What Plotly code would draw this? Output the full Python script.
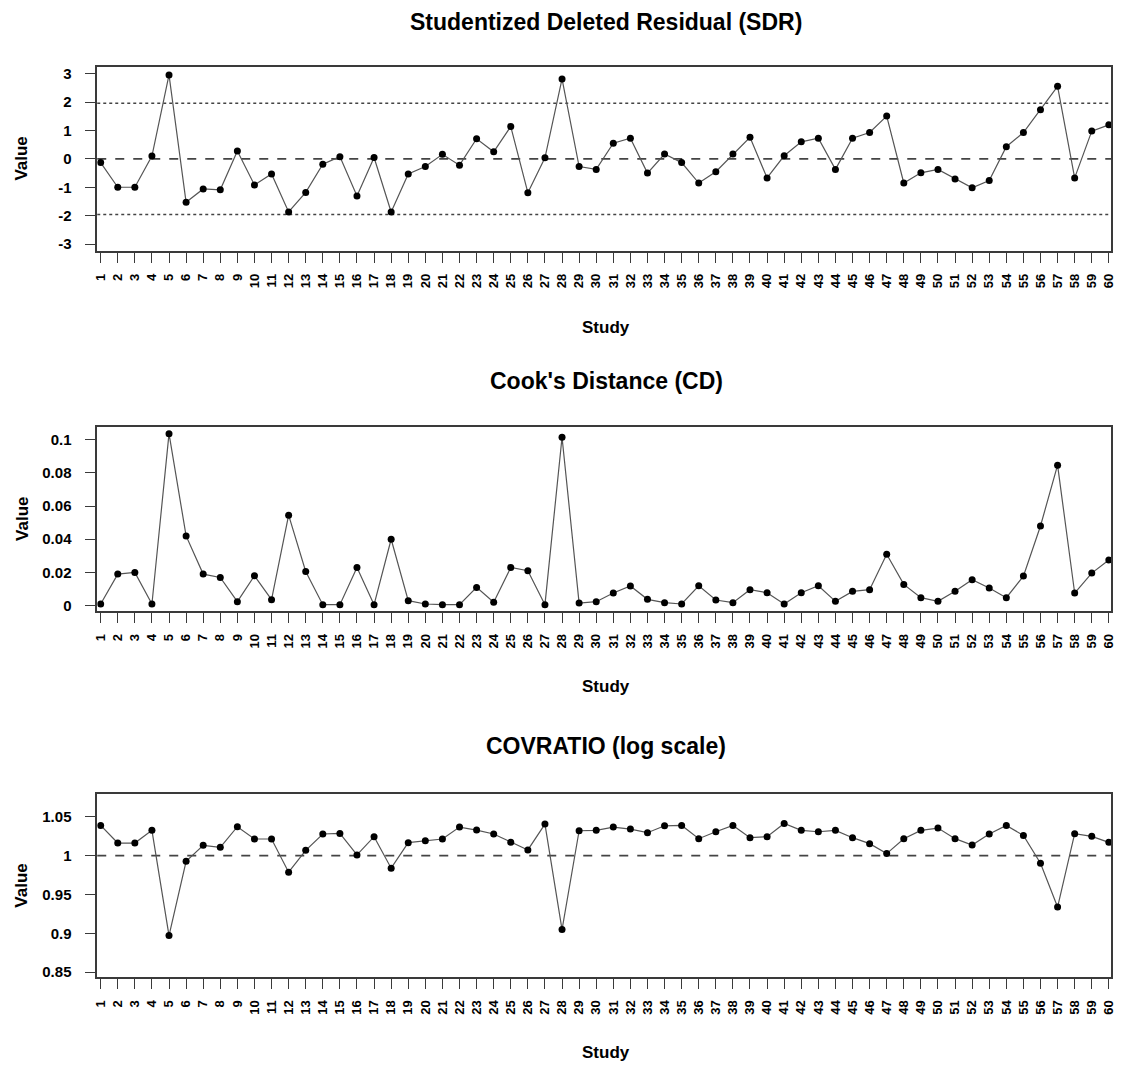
import plotly.graph_objects as go

studies = list(range(1, 61))
study_labels = [str(s) for s in studies]

sdr = [-0.13, -1.00, -1.00, 0.10, 2.96, -1.53, -1.06, -1.09, 0.28, -0.92,
       -0.53, -1.87, -1.18, -0.19, 0.08, -1.31, 0.05, -1.87, -0.53, -0.27,
       0.16, -0.22, 0.71, 0.25, 1.14, -1.19, 0.04, 2.82, -0.27, -0.37,
       0.55, 0.73, -0.50, 0.17, -0.13, -0.85, -0.45, 0.17, 0.76, -0.67,
       0.11, 0.60, 0.73, -0.37, 0.73, 0.93, 1.51, -0.85, -0.49, -0.37,
       -0.71, -1.02, -0.76, 0.43, 0.93, 1.73, 2.56, -0.67, 0.98, 1.20]

cd = [0.0010, 0.0190, 0.0200, 0.0010, 0.1036, 0.0420, 0.0190, 0.0170, 0.0024, 0.0180,
      0.0036, 0.0545, 0.0206, 0.0006, 0.0006, 0.0230, 0.0006, 0.0400, 0.0030, 0.0010,
      0.0006, 0.0006, 0.0110, 0.0020, 0.0230, 0.0210, 0.0006, 0.1014, 0.0016, 0.0024,
      0.0076, 0.0118, 0.0038, 0.0018, 0.0010, 0.0120, 0.0034, 0.0018, 0.0096, 0.0078,
      0.0010, 0.0078, 0.0120, 0.0026, 0.0086, 0.0096, 0.0310, 0.0128, 0.0048, 0.0026,
      0.0086, 0.0156, 0.0106, 0.0048, 0.0178, 0.0480, 0.0846, 0.0076, 0.0196, 0.0275]

covratio = [1.0389, 1.0162, 1.0162, 1.0325, 0.8970, 0.9927, 1.0132, 1.0107, 1.0372, 1.0214,
            1.0214, 0.9786, 1.0068, 1.0278, 1.0286, 1.0009, 1.0244, 0.9838, 1.0167, 1.0192,
            1.0214, 1.0367, 1.0329, 1.0278, 1.0171, 1.0073, 1.0406, 0.9048, 1.0320, 1.0325,
            1.0367, 1.0342, 1.0295, 1.0384, 1.0389, 1.0218, 1.0307, 1.0389, 1.0231, 1.0244,
            1.0414, 1.0325, 1.0307, 1.0325, 1.0231, 1.0154, 1.0026, 1.0218, 1.0325, 1.0355,
            1.0218, 1.0137, 1.0278, 1.0389, 1.0260, 0.9902, 0.9338, 1.0282, 1.0248, 1.0171]

titles = ["Studentized Deleted Residual (SDR)", "Cook's Distance (CD)", "COVRATIO (log scale)"]
x_title = "Study"
y_title = "Value"

sdr_ticks = [3, 2, 1, 0, -1, -2, -3]
cd_ticks = [0.1, 0.08, 0.06, 0.04, 0.02, 0]
cd_ticktext = ["0.1", "0.08", "0.06", "0.04", "0.02", "0"]
cov_ticks = [1.05, 1.0, 0.95, 0.9, 0.85]
cov_ticktext = ["1.05", "1", "0.95", "0.9", "0.85"]

W, H = 1124, 1065
FONT = "Liberation Sans, Arial, sans-serif"
FRAME = "#3a3a3a"

# panel boxes in pixels (top, bottom)
boxes = [(65, 250), (427, 612), (796, 980)]
x_left, x_right = 94, 1116
title_y = [20, 381, 748]
study_y = [327, 688, 1055]


def px(p):
    return p / W


def py(p):
    return 1 - p / H


fig = go.Figure()

series = [sdr, cd, covratio]
for i, vals in enumerate(series):
    sfx = "" if i == 0 else str(i + 1)
    fig.add_trace(go.Scatter(
        x=studies, y=vals, mode="lines+markers",
        line=dict(color="#555555", width=1.2),
        marker=dict(color="black", size=7),
        xaxis="x" + sfx, yaxis="y" + sfx, showlegend=False,
    ))

yranges = [[-3.24, 3.25], [-0.0033, 0.1076], [0.8432, 1.079]]
yticks = [(sdr_ticks, [str(t) for t in sdr_ticks]), (cd_ticks, cd_ticktext), (cov_ticks, cov_ticktext)]

layout = dict(
    width=W, height=H,
    margin=dict(l=0, r=0, t=0, b=0),
    paper_bgcolor="white", plot_bgcolor="white",
    font=dict(family=FONT, color="black"),
    showlegend=False,
)
for i in range(3):
    sfx = "" if i == 0 else str(i + 1)
    top, bot = boxes[i]
    layout["xaxis" + sfx] = dict(
        domain=[px(x_left), px(x_right)],
        anchor="y" + sfx,
        range=[0.8, 60.13],
        tickmode="array", tickvals=studies, ticktext=study_labels,
        tickangle=-90,
        tickfont=dict(size=13, family=FONT, color="black", weight="bold"),
        ticks="outside", ticklen=10, tickwidth=1.3, tickcolor=FRAME,
        ticklabelstandoff=6,
        showline=True, linecolor=FRAME, linewidth=1.5, mirror=True,
        showgrid=False, zeroline=False,
    )
    layout["yaxis" + sfx] = dict(
        domain=[py(bot), py(top)],
        anchor="x" + sfx,
        range=yranges[i],
        tickmode="array", tickvals=yticks[i][0], ticktext=yticks[i][1],
        tickfont=dict(size=15, family=FONT, color="black", weight="bold"),
        ticks="outside", ticklen=10, tickwidth=1.3, tickcolor=FRAME,
        ticklabelstandoff=11,
        showline=True, linecolor=FRAME, linewidth=1.5, mirror=True,
        showgrid=False, zeroline=False,
    )
fig.update_layout(**layout)

shapes = []
shapes.append(dict(type="line", xref="x domain", yref="y", x0=0, x1=1, y0=0, y1=0,
                   line=dict(color="#444444", width=1.6, dash="dash"), layer="below"))
for v in (1.96, -1.96):
    shapes.append(dict(type="line", xref="x domain", yref="y", x0=0, x1=1, y0=v, y1=v,
                       line=dict(color="#444444", width=1.4, dash="dot"), layer="below"))
shapes.append(dict(type="line", xref="x3 domain", yref="y3", x0=0, x1=1, y0=1, y1=1,
                   line=dict(color="#444444", width=1.6, dash="dash"), layer="below"))
fig.update_layout(shapes=shapes)

annotations = []
cx = px((94 + 1120) / 2)
for i in range(3):
    top, bot = boxes[i]
    annotations.append(dict(text="<b>%s</b>" % titles[i], x=cx, y=py(title_y[i]),
                            xref="paper", yref="paper", showarrow=False,
                            xanchor="center", yanchor="middle",
                            font=dict(size=23, family=FONT, color="black")))
    annotations.append(dict(text="<b>%s</b>" % x_title, x=cx, y=py(study_y[i]),
                            xref="paper", yref="paper", showarrow=False,
                            xanchor="center", yanchor="middle",
                            font=dict(size=17, family=FONT, color="black")))
    annotations.append(dict(text="<b>%s</b>" % y_title, x=px(18), y=py((top + bot) / 2),
                            xref="paper", yref="paper", showarrow=False, textangle=-90,
                            xanchor="center", yanchor="middle",
                            font=dict(size=17, family=FONT, color="black")))
fig.update_layout(annotations=annotations)

post = ("document.documentElement.style.margin='0';"
        "document.body.style.margin='0';"
        "document.body.style.overflow='hidden';"
        "document.documentElement.style.overflow='hidden';")
fig.write_html("out.html", post_script=post, config={"displayModeBar": False})
